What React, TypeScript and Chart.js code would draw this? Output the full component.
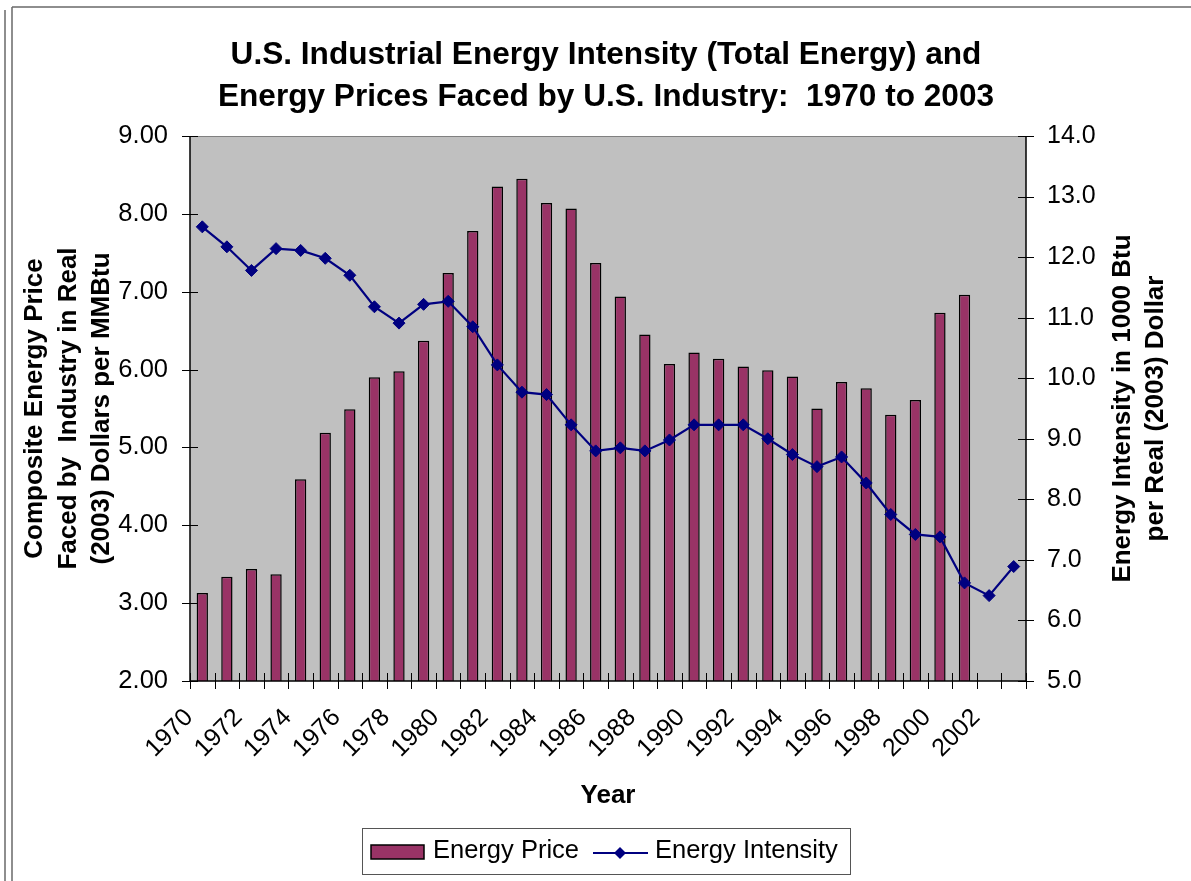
import React, { useEffect, useRef } from 'react';
import { Chart, registerables } from 'chart.js';

Chart.register(...registerables);

const years = [
  1970, 1971, 1972, 1973, 1974, 1975, 1976, 1977, 1978, 1979,
  1980, 1981, 1982, 1983, 1984, 1985, 1986, 1987, 1988, 1989,
  1990, 1991, 1992, 1993, 1994, 1995, 1996, 1997, 1998, 1999,
  2000, 2001, 2002, 2003,
];

const energyPrice: (number | null)[] = [
  3.13, 3.34, 3.44, 3.37, 4.59, 5.19, 5.49, 5.90, 5.98, 6.37,
  7.24, 7.78, 8.35, 8.45, 8.14, 8.07, 7.37, 6.94, 6.45, 6.07,
  6.22, 6.14, 6.04, 5.99, 5.91, 5.50, 5.84, 5.76, 5.42, 5.61,
  6.73, 6.96, null, null,
];

const energyIntensity = [
  12.50, 12.17, 11.78, 12.14, 12.11, 11.98, 11.70, 11.18, 10.91, 11.22,
  11.27, 10.85, 10.22, 9.77, 9.73, 9.23, 8.80, 8.85, 8.80, 8.98,
  9.23, 9.23, 9.23, 9.00, 8.74, 8.54, 8.70, 8.27, 7.75, 7.42,
  7.38, 6.62, 6.41, 6.89,
];

const xTickLabels = years.map((y, i) => (i % 2 === 0 ? String(y) : ''));

const titleLines = [
  'U.S. Industrial Energy Intensity (Total Energy) and',
  'Energy Prices Faced by U.S. Industry:  1970 to 2003',
];
const leftTitleLines = [
  'Composite Energy Price',
  'Faced by  Industry in Real',
  '(2003) Dollars per MMBtu',
];
const rightTitleLines = ['Energy Intensity in 1000 Btu', 'per Real (2003) Dollar'];
const xTitle = 'Year';
const seriesNames = ['Energy Price', 'Energy Intensity'];

const FONT = '"Liberation Sans", Arial, Helvetica, sans-serif';
const BAR_COLOR = '#993366';
const LINE_COLOR = '#000080';
const PLOT_BG = '#C0C0C0';

const decorPlugin = {
  id: 'decor',
  beforeDraw(chart: any) {
    const { ctx, chartArea: a } = chart;
    ctx.save();
    ctx.fillStyle = '#ffffff';
    ctx.fillRect(0, 0, chart.width, chart.height);
    // outer frames
    ctx.strokeStyle = '#6a6a6a';
    ctx.lineWidth = 1.5;
    ctx.beginPath();
    ctx.moveTo(5, 10); ctx.lineTo(5, chart.height);
    ctx.moveTo(12, 7); ctx.lineTo(12, chart.height);
    ctx.moveTo(12, 7); ctx.lineTo(chart.width, 7);
    ctx.stroke();
    // plot area
    ctx.fillStyle = PLOT_BG;
    ctx.fillRect(a.left, a.top, a.right - a.left, a.bottom - a.top);
    ctx.strokeStyle = '#808080';
    ctx.lineWidth = 1;
    ctx.beginPath();
    ctx.moveTo(a.left, a.top + 0.5); ctx.lineTo(a.right, a.top + 0.5);
    ctx.stroke();
    ctx.restore();
  },
  afterDraw(chart: any) {
    const { ctx, chartArea: a, scales } = chart;
    const xs = scales.x, yl = scales.y, yr = scales.y1;
    ctx.save();
    // axis lines
    ctx.strokeStyle = '#000';
    ctx.lineWidth = 1.5;
    ctx.beginPath();
    ctx.moveTo(a.left, a.top); ctx.lineTo(a.left, a.bottom);
    ctx.moveTo(a.right, a.top); ctx.lineTo(a.right, a.bottom);
    ctx.moveTo(a.left, a.bottom); ctx.lineTo(a.right, a.bottom);
    ctx.stroke();
    // crossing tick marks
    ctx.lineWidth = 1;
    ctx.strokeStyle = '#000';
    ctx.beginPath();
    yl.ticks.forEach((t: any) => {
      const y = Math.round(yl.getPixelForValue(t.value)) + 0.5;
      ctx.moveTo(a.left - 8, y); ctx.lineTo(a.left + 8, y);
    });
    yr.ticks.forEach((t: any) => {
      const y = Math.round(yr.getPixelForValue(t.value)) + 0.5;
      ctx.moveTo(a.right - 8, y); ctx.lineTo(a.right + 8, y);
    });
    const cw = xs.getPixelForValue(1) - xs.getPixelForValue(0);
    for (let i = 0; i <= years.length; i++) {
      const x = Math.round(xs.getPixelForValue(i) - cw / 2) + 0.5;
      ctx.moveTo(x, a.bottom - 8); ctx.lineTo(x, a.bottom + 8);
    }
    ctx.stroke();

    // title
    ctx.fillStyle = '#000';
    ctx.font = `bold 31.6px ${FONT}`;
    ctx.textAlign = 'center';
    ctx.textBaseline = 'alphabetic';
    ctx.fillText(titleLines[0], 606, 64);
    ctx.fillText(titleLines[1], 606, 106);

    // x title
    ctx.font = `bold 26px ${FONT}`;
    ctx.fillText(xTitle, (a.left + a.right) / 2, 803);

    // left axis title
    const midY = (a.top + a.bottom) / 2;
    const leftX = [42, 75.5, 109];
    leftTitleLines.forEach((s, i) => {
      ctx.save();
      ctx.translate(leftX[i], midY);
      ctx.rotate(-Math.PI / 2);
      ctx.fillText(s, 0, 0);
      ctx.restore();
    });
    const rightX = [1130, 1163];
    rightTitleLines.forEach((s, i) => {
      ctx.save();
      ctx.translate(rightX[i], midY);
      ctx.rotate(-Math.PI / 2);
      ctx.fillText(s, 0, 0);
      ctx.restore();
    });

    // legend
    ctx.strokeStyle = '#555';
    ctx.lineWidth = 1;
    ctx.strokeRect(362.5, 828.5, 488, 46);
    ctx.fillStyle = BAR_COLOR;
    ctx.fillRect(371, 845, 53, 14);
    ctx.strokeStyle = '#000';
    ctx.lineWidth = 1.5;
    ctx.strokeRect(371, 845, 53, 14);
    ctx.fillStyle = '#000';
    ctx.font = `25.5px ${FONT}`;
    ctx.textAlign = 'left';
    ctx.fillText(seriesNames[0], 433, 858);
    ctx.strokeStyle = LINE_COLOR;
    ctx.lineWidth = 2;
    ctx.beginPath();
    ctx.moveTo(593, 853); ctx.lineTo(648, 853);
    ctx.stroke();
    ctx.fillStyle = LINE_COLOR;
    ctx.beginPath();
    ctx.moveTo(620, 847); ctx.lineTo(626, 853); ctx.lineTo(620, 859); ctx.lineTo(614, 853);
    ctx.closePath();
    ctx.fill();
    ctx.fillStyle = '#000';
    ctx.fillText(seriesNames[1], 655, 858);
    ctx.restore();
  },
};

export default function App() {
  const ref = useRef<HTMLCanvasElement | null>(null);
  useEffect(() => {
    document.body.style.margin = '0';
    const canvas = ref.current;
    if (!canvas) return;
    const chart = new Chart(canvas, {
      type: 'bar',
      data: {
        labels: years.map(String),
        datasets: [
          {
            type: 'line',
            label: seriesNames[1],
            data: energyIntensity,
            yAxisID: 'y1',
            borderColor: LINE_COLOR,
            backgroundColor: LINE_COLOR,
            borderWidth: 2.2,
            pointStyle: 'rectRot',
            pointRadius: 6,
            pointBorderWidth: 1,
            pointBackgroundColor: LINE_COLOR,
            pointBorderColor: LINE_COLOR,
            tension: 0,
            order: 0,
          } as any,
          {
            type: 'bar',
            label: seriesNames[0],
            data: energyPrice,
            yAxisID: 'y',
            backgroundColor: BAR_COLOR,
            borderColor: '#000',
            borderWidth: 1.5,
            borderSkipped: false,
            barPercentage: 0.46,
            categoryPercentage: 1,
            order: 1,
          } as any,
        ],
      },
      options: {
        responsive: false,
        animation: false,
        devicePixelRatio: 1,
        layout: { padding: { top: 136, left: 0, right: 0, bottom: 0 } },
        plugins: {
          legend: { display: false },
          title: { display: false },
          tooltip: { enabled: false },
        },
        scales: {
          x: {
            type: 'category',
            offset: true,
            grid: { display: false, drawTicks: false },
            border: { display: false },
            ticks: {
              autoSkip: false,
              maxRotation: 45,
              minRotation: 45,
              padding: 22,
              labelOffset: -13,
              color: '#000',
              font: { family: FONT, size: 25 },
              callback: (_v: any, i: number) => xTickLabels[i],
            },
            afterFit: (s: any) => { s.height = 200; },
          },
          y: {
            position: 'left',
            min: 2,
            max: 9,
            grid: { display: false, drawTicks: false },
            border: { display: false },
            ticks: {
              stepSize: 1,
              padding: 22,
              color: '#000',
              font: { family: FONT, size: 25.5 },
              callback: (v: any) => Number(v).toFixed(2),
            },
            afterFit: (s: any) => { s.width = 190; },
          },
          y1: {
            position: 'right',
            min: 5,
            max: 14,
            grid: { display: false, drawTicks: false },
            border: { display: false },
            ticks: {
              stepSize: 1,
              padding: 21,
              color: '#000',
              font: { family: FONT, size: 25 },
              callback: (v: any) => Number(v).toFixed(1),
            },
            afterFit: (s: any) => { s.width = 165; },
          },
        },
      },
      plugins: [decorPlugin],
    });
    return () => chart.destroy();
  }, []);
  return (
    <div style={{ position: 'absolute', left: 0, top: 0, width: 1191, height: 881 }}>
      <canvas ref={ref} width={1191} height={881} style={{ display: 'block' }} />
    </div>
  );
}
